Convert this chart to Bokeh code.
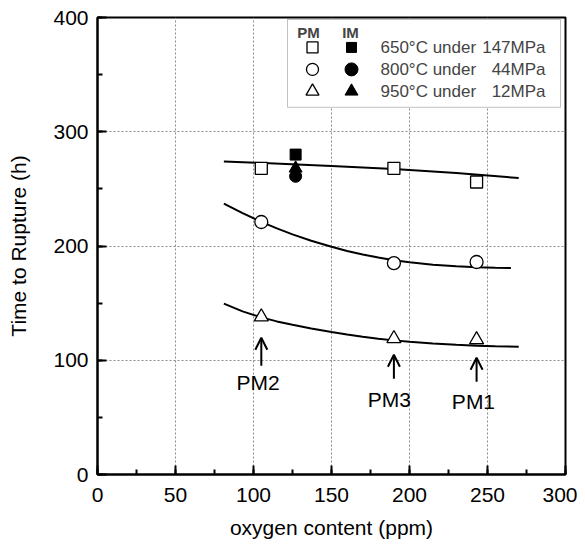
from bokeh.plotting import figure
from bokeh.models import (Range1d, SingleIntervalTicker, BoxAnnotation, Label,
                          Arrow, OpenHead)
from bokeh.embed import file_html
from bokeh.resources import INLINE

# ---------------- data ----------------
oxygen_pm = [105, 190, 243]
pm_650 = [268, 268, 256]
pm_800 = [221, 185, 186]
pm_950 = [138, 119, 118]

oxygen_im = [127]
im_650 = [280]
im_800 = [261]
im_950 = [268]

fit_x_650 = [81, 110, 150, 190, 230, 270]
fit_650 = [274, 272.4, 270, 267.5, 263.8, 259.5]
fit_x_800 = [81, 93, 105, 115, 125, 137, 150, 160, 170, 180, 190, 200, 215,
             230, 243, 255, 265]
fit_800 = [237, 228.7, 221.1, 215.4, 210.2, 204.6, 199.3, 195.7, 192.6, 189.9,
           187.6, 185.7, 183.6, 182.3, 181.5, 181.0, 180.7]
fit_x_950 = [81, 93, 105, 115, 125, 137, 150, 160, 170, 180, 190, 200, 215,
             230, 243, 255, 270]
fit_950 = [149.5, 142.8, 137.5, 134.0, 131.0, 127.8, 124.7, 122.6, 120.6,
           118.9, 117.4, 116.1, 114.6, 113.5, 112.8, 112.3, 111.9]

alloy_labels = ["PM2", "PM3", "PM1"]
legend_rows = ["650°C under", "800°C under", "950°C under"]
legend_stress = ["147MPa", "44MPa", "12MPa"]

FONT = "Liberation Sans"

# ---------------- figure ----------------
ML, MR, MT, MB = 97, 12, 17, 66
FW, FH = 468, 458
W, H = ML + FW + MR, MT + FH + MB
p = figure(width=W, height=H, output_backend="svg", toolbar_location=None,
           x_range=Range1d(0, 300), y_range=Range1d(0, 400),
           min_border_left=ML, min_border_right=MR, min_border_top=MT,
           min_border_bottom=MB)
p.background_fill_color = "white"
p.border_fill_color = "white"
p.outline_line_color = "black"
p.outline_line_width = 2

# pixel helpers for layout positions
def px_x(px):
    return (px - ML) * 300.0 / FW
def px_y(py):
    return (MT + FH - py) * 400.0 / FH

for ax, interval in ((p.xaxis[0], 50), (p.yaxis[0], 100)):
    ax.ticker = SingleIntervalTicker(interval=interval, num_minor_ticks=2)
    ax.axis_line_width = 2
    ax.major_tick_in = 9
    ax.major_tick_out = 0
    ax.minor_tick_in = 5
    ax.minor_tick_out = 0
    ax.major_tick_line_width = 2
    ax.minor_tick_line_width = 2
    ax.major_label_text_font = FONT
    ax.major_label_text_font_size = "21px"
    ax.major_label_text_color = "black"
    ax.axis_label_text_font = FONT
    ax.axis_label_text_font_size = "21px"
    ax.axis_label_text_font_style = "normal"
    ax.axis_label_text_color = "black"

p.xaxis.axis_label = "oxygen content (ppm)"
p.yaxis.axis_label = "Time to Rupture (h)"
p.xaxis.major_label_standoff = 13
p.yaxis.major_label_standoff = 9
p.xaxis.axis_label_standoff = 11
p.yaxis.axis_label_standoff = 20

p.xgrid.ticker = SingleIntervalTicker(interval=50)
p.ygrid.ticker = SingleIntervalTicker(interval=100)
for g in (p.xgrid[0], p.ygrid[0]):
    g.grid_line_color = "#8a8a8a"
    g.grid_line_dash = "2 2"
    g.grid_line_width = 1

# fitted curves
p.line(fit_x_650, fit_650, line_color="black", line_width=2)
p.line(fit_x_800, fit_800, line_color="black", line_width=2)
p.line(fit_x_950, fit_950, line_color="black", line_width=2)

# PM (open) markers
p.scatter(oxygen_pm, pm_650, marker="square", size=12, fill_color="white",
          line_color="black", line_width=1.3)
p.scatter(oxygen_pm, pm_800, marker="circle", size=13, fill_color="white",
          line_color="black", line_width=1.3)
p.scatter(oxygen_pm, pm_950, marker="triangle", size=14, fill_color="white",
          line_color="black", line_width=1.3)

# IM (filled) markers
p.scatter(oxygen_im, im_950, marker="triangle", size=13, fill_color="black",
          line_color="black")
p.scatter(oxygen_im, im_800, marker="circle", size=12, fill_color="black",
          line_color="black")
p.scatter(oxygen_im, im_650, marker="square", size=11, fill_color="black",
          line_color="black")

# arrows + alloy labels
arrow_tip = [px_y(338), px_y(355), px_y(358)]
arrow_tail = [px_y(366), px_y(379), px_y(382)]
label_y = [px_y(383), px_y(400), px_y(402)]
label_dx = [-2, -3, -2]
for xo, t0, t1, ly, dx, name in zip(oxygen_pm, arrow_tip, arrow_tail, label_y,
                                    label_dx, alloy_labels):
    p.add_layout(Arrow(end=OpenHead(size=12, line_width=2, line_color="black"),
                       x_start=xo, y_start=t1, x_end=xo, y_end=t0,
                       line_width=2, line_color="black"))
    p.add_layout(Label(x=xo + dx, y=ly, text=name, text_font=FONT,
                       text_font_size="21px", text_align="center",
                       text_baseline="middle", text_color="black"))

# legend box
p.add_layout(BoxAnnotation(left=px_x(287), right=px_x(560), top=px_y(19),
                           bottom=px_y(107), fill_color="white", fill_alpha=1,
                           line_color="#333333", line_width=1,
                           level="annotation"))
for hx, htxt in ((308, "PM"), (350, "IM")):
    p.add_layout(Label(x=px_x(hx), y=px_y(32), text=htxt, text_font=FONT,
                       text_font_size="15px", text_align="center",
                       text_font_style="bold",
                       text_baseline="middle", level="overlay"))
row_y = [px_y(47), px_y(69), px_y(91)]
markers = ["square", "circle", "triangle"]
msize = [11, 12, 13]
im_size = [10, 13, 13]
for ry, mk, ms, ims, txt, st in zip(row_y, markers, msize, im_size,
                                    legend_rows, legend_stress):
    p.scatter([px_x(312)], [ry], marker=mk, size=ms, fill_color="white",
              line_color="black", line_width=1.3, level="overlay")
    p.scatter([px_x(351)], [ry], marker=mk, size=ims, fill_color="black",
              line_color="black", level="overlay")
    p.add_layout(Label(x=px_x(380), y=ry, text=txt, text_font=FONT,
                       text_font_size="17px", text_align="left",
                       text_baseline="middle", level="overlay"))
    p.add_layout(Label(x=px_x(545), y=ry, text=st, text_font=FONT,
                       text_font_size="17px", text_align="right",
                       text_baseline="middle", level="overlay"))

open("out.html", "w").write(file_html(p, INLINE))
